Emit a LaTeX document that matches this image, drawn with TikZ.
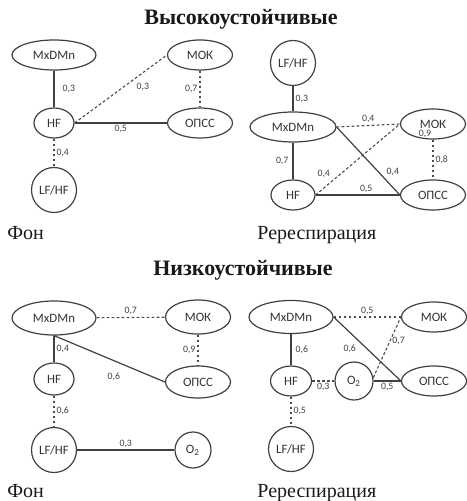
\documentclass[tikz,border=0pt]{standalone}
\usepackage{fontspec}
\setmainfont{Liberation Serif}
\newfontfamily\nodefont{Carlito}
\usepackage{tikz}
\usetikzlibrary{shapes.geometric,positioning}

\begin{document}
\begin{tikzpicture}[x=.5pt,y=-.5pt]
\tikzset{oval/.style={ellipse,draw=black!75,line width=.6pt,inner sep=0pt,font=\nodefont\fontsize{6.4}{7}\selectfont,text=black!80},
big/.style={oval,minimum width=42pt,minimum height=15pt},
midsize/.style={oval,minimum width=32.5pt,minimum height=15pt},
small/.style={oval,minimum width=20pt,minimum height=15pt},
ring/.style={oval,circle,minimum size=22.5pt},
gas/.style={oval,circle,minimum size=18pt},
link/.style={line width=.6pt,draw=black!75},
weak/.style={line width=.55pt,draw=black!70,dash pattern=on 1.4pt off 1.1pt},
lbl/.style={font=\nodefont\fontsize{4.9}{5}\selectfont,text=black!75,inner sep=1pt},
head/.style={font=\fontsize{11}{12}\selectfont\bfseries,text=black!90},
caption/.style={font=\fontsize{10}{12}\selectfont,text=black!90,anchor=base west,inner sep=0pt}}
\useasboundingbox (0,0) rectangle (466,501);

% high stability
\node[head] (ttop) at (241,19){Высокоустойчивые};

\node[big] (mxa) at (54,55){MxDMn};
\node[midsize] (moka) at (200,55){МОК};
\node[small] (hfa) at (54,123){HF};
\node[midsize] (opa) at (200,123){ОПСС};
\node[ring] (lfa) at (54,190){LF/HF};
\draw[link] (mxa) -- node[lbl,right=3pt]{0,3} (hfa);
\draw[weak] (hfa.east) -- node[lbl,pos=.74,below=4pt]{0,3} (moka.west);
\draw[weak] (moka) -- node[lbl,left=0pt]{0,7} (opa);
\draw[link] (hfa) -- node[lbl,below=0pt]{0,5} (opa);
\draw[weak] (hfa) -- node[lbl,right=0pt]{0,4} (lfa);
\node[caption] (fa) at (7,240){Фон};

\begin{scope}[shift={(233,0)}]
\node[ring] (lfb) at (60,63){LF/HF};
\node[big,minimum width=43pt] (mxb) at (60,127){MxDMn};
\node[midsize] (mokb) at (200,124){МОК};
\node[small,minimum width=22pt] (hfb) at (60,195){HF};
\node[midsize] (opb) at (200,195){ОПСС};
\draw[link] (lfb) -- node[lbl,right=0pt]{0,3} (mxb);
\draw[weak] (mxb.east) -- node[lbl,above=0pt]{0,4} (mokb.west);
\draw[link] (mxb) -- node[lbl,left=1pt]{0,7} (hfb);
\draw[link] (mxb.east) -- node[lbl,pos=.75,above right=0pt]{0,4} (opb.west);
\draw[weak] (hfb.east) -- node[lbl,pos=.2,above left=0pt]{0,4} (mokb.west);
\draw[weak] (mokb) -- node[lbl,right=0pt]{0,8} (opb);
\node[lbl] (ninb) at (192,134){0,9};
\draw[link] (hfb) -- node[lbl,pos=.6,above=0pt]{0,5} (opb);
\node[caption] (rb) at (24,240){Ререспирация};
\end{scope}

% low stability
\begin{scope}[shift={(0,250)}]
\node[head] (tbot) at (243,20){Низкоустойчивые};
\node[big,minimum height=17pt] (mxc) at (54,68){MxDMn};
\node[midsize,minimum height=17pt] (mokc) at (198,67){МОК};
\node[small,minimum height=16pt] (hfc) at (54,129){HF};
\node[midsize,minimum height=16pt] (opc) at (198,132){ОПСС};
\node[ring] (lfc) at (54,200){LF/HF};
\node[gas] (o2c) at (193,200){O\textsubscript{2}};
\draw[weak] (mxc) -- node[lbl,above=0pt]{0,7} (mokc);
\draw[link] (mxc) -- node[lbl,right=0pt]{0,4} (hfc);
\draw[link] (mxc.south) -- node[lbl,pos=.54,below=5pt]{0,6} (opc.west);
\draw[weak] (mokc) -- node[lbl,left=0pt]{0,9} (opc);
\draw[weak] (hfc) -- node[lbl,right=0pt]{0,6} (lfc);
\draw[link] (lfc) -- node[lbl,above=0pt]{0,3} (o2c);
\node[caption] (fc) at (7,247){Фон};
\end{scope}

\begin{scope}[shift={(233,250)}]
\node[big,minimum height=16.5pt] (mxd) at (58,67){MxDMn};
\node[midsize] (mokd) at (201,67){МОК};
\node[small,minimum width=20.5pt] (hfd) at (58,131){HF};
\node[gas,minimum size=19pt] (o2d) at (121,131){O\textsubscript{2}};
\node[midsize] (opd) at (201,131){ОПСС};
\node[ring] (lfd) at (58,199){LF/HF};
\draw[weak] (mxd) -- node[lbl,above=0pt]{0,5} (mokd);
\draw[link] (mxd) -- node[lbl,right=1pt]{0,6} (hfd);
\draw[link] (mxd.east) -- node[lbl,pos=.24,below=5pt]{0,6} (opd.west);
\draw[weak] (o2d.10) -- node[lbl,pos=.6,right=0pt]{0,7} (mokd.west);
\draw[weak] (hfd) -- node[lbl,below=0pt]{0,3} (o2d);
\draw[link] (o2d) -- node[lbl,below=0pt]{0,5} (opd);
\draw[weak] (hfd) -- node[lbl,right=0pt]{0,5} (lfd);
\node[caption] (rd) at (24,247){Ререспирация};
\end{scope}
\end{tikzpicture}
\end{document}
